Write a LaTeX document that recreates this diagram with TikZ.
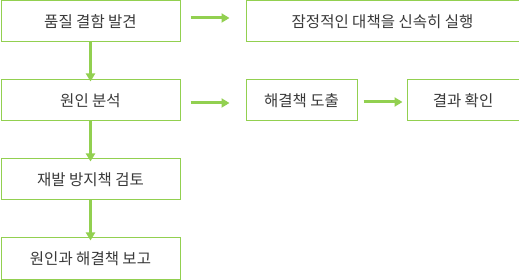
\documentclass[tikz,border=0pt]{standalone}
\usepackage{fontspec}
\setmainfont{Noto Sans CJK KR}
\usetikzlibrary{arrows.meta}
\definecolor{grn}{HTML}{92D050}
\definecolor{txt}{HTML}{3A3A3A}
\begin{document}
\begin{tikzpicture}[x=1pt,y=-1pt,
  box/.style={draw=grn,line width=1pt,fill=white,text=txt,font=\fontsize{15.5}{18}\selectfont,inner sep=0pt,anchor=north west},
  arr/.style={draw=grn,line width=3pt,-{Triangle[length=8pt,width=9pt]}}]
\useasboundingbox (0,0) rectangle (519,280);
\node[box,minimum width=179pt,minimum height=41pt] (a) at (0.5,0.5) {품질 결함 발견};
\node[box,minimum width=273pt,minimum height=41pt] (b) at (245.5,0.5) {잠정적인 대책을 신속히 실행};
\node[box,minimum width=179pt,minimum height=41pt] (c) at (0.5,79.5) {원인 분석};
\node[box,minimum width=111pt,minimum height=41pt] (d) at (245.5,79.5) {해결책 도출};
\node[box,minimum width=112pt,minimum height=41pt] (e) at (406.5,79.5) {결과 확인};
\node[box,minimum width=179pt,minimum height=41pt] (f) at (0.5,158.5) {재발 방지책 검토};
\node[box,minimum width=179pt,minimum height=41pt] (g) at (0.5,237.5) {원인과 해결책 보고};
\coordinate (a1) at ([xshift=10pt]a.east);
\coordinate (b1) at ([xshift=-16pt]b.west);
\draw[arr] (a1 |- 0,18) -- (b1 |- 0,18);
\draw[arr] ([xshift=10pt]c.east |- 0,103) -- ([xshift=-16pt]d.west |- 0,103);
\draw[arr] ([xshift=6pt]d.east |- 0,102) -- ([xshift=-4pt]e.west |- 0,102);
\draw[arr] (a.south) -- ([yshift=-2pt]c.north);
\draw[arr] (c.south) -- ([yshift=-3pt]f.north);
\draw[arr] (f.south) -- ([yshift=-3pt]g.north);
\end{tikzpicture}
\end{document}
